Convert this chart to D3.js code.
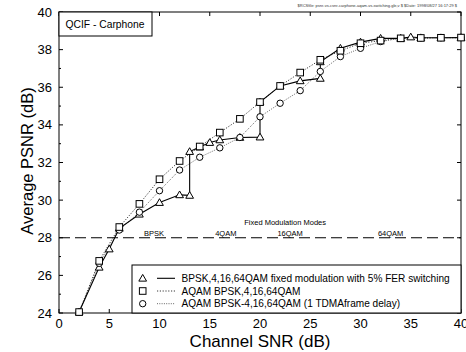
<!DOCTYPE html>
<html><head><meta charset="utf-8">
<script src="https://cdn.jsdelivr.net/npm/d3@7"></script>
<style>
body{margin:0;background:#fff;}
svg{display:block;font-family:"Liberation Sans",Arial,Helvetica,sans-serif;}
</style></head>
<body>
<svg id="chart" width="466" height="352"></svg>
<script>
// ---- data ----
const triangleData = [[2,24.05],[4,26.43],[5,27.4],[6,28.5],[8,29.25],[10,29.87],[12,30.28],[13,30.25],[13,32.58],[14,32.82],[15,33.06],[16,33.2],[18,33.33],[20,33.35],[20,35.21],[22,36.07],[24,36.34],[26,36.47],[26,37.35],[28,38.07],[30,38.4],[32,38.6],[34,38.6],[35,38.67],[36,38.63],[38,38.63],[40,38.64]];
const squareData = [[2,24.05],[4,26.77],[6,28.57],[8,29.8],[10,31.11],[12,32.08],[14,32.85],[16,33.59],[18,34.32],[20,35.21],[22,36.07],[24,36.78],[26,37.46],[28,37.94],[30,38.34],[32,38.48],[34,38.6],[36,38.62],[38,38.63],[40,38.64]];
const circleData = [[2,24.05],[4,26.64],[6,28.41],[8,29.36],[10,30.5],[12,31.6],[14,32.28],[16,32.78],[18,33.33],[20,34.43],[22,35.15],[24,35.82],[26,36.84],[28,37.63],[30,38.07],[32,38.43],[34,38.6],[36,38.62],[38,38.63],[40,38.64]];
const seriesNames = ["BPSK,4,16,64QAM fixed modulation with 5% FER switching","AQAM BPSK,4,16,64QAM","AQAM BPSK-4,16,64QAM (1 TDMAframe delay)"];
const xTicks = [0,5,10,15,20,25,30,35,40];
const yTicks = [24,26,28,30,32,34,36,38,40];
const yMinorTicks = [25,27,29,31,33,35,37,39];
const fixedThreshold = 28;
const modeLabels = [["BPSK",9.45],["4QAM",16.6],["16QAM",23.0],["64QAM",33.0]];
const modeTitle = ["Fixed Modulation Modes",22.5];
const boxTitle = "QCIF - Carphone";
const rcsText = "$RCSfile: psnr-vs-csnr-carphone-aqam-vs-switching.gle,v $ $Date: 1998/08/27 16:17:29 $";
const xTitle = "Channel SNR (dB)";
const yTitle = "Average PSNR (dB)";

// ---- chart ----
const svg = d3.select("#chart");
const L=59,R=461,T=12,B=313;
const x = d3.scaleLinear().domain([0,40]).range([L,R]);
const y = d3.scaleLinear().domain([24,40]).range([B,T]);

// rcs text
svg.append("text").attr("x",457).attr("y",7).attr("text-anchor","end")
  .attr("font-size",4).attr("fill","#333").text(rcsText);

// frame
svg.append("rect").attr("x",L).attr("y",T).attr("width",R-L).attr("height",B-T)
  .attr("fill","none").attr("stroke","#000").attr("stroke-width",1);

// ticks
const tk = svg.append("g").attr("stroke","#000").attr("stroke-width",1);
xTicks.forEach(v=>{
  tk.append("line").attr("x1",x(v)).attr("x2",x(v)).attr("y1",B).attr("y2",B-4);
  tk.append("line").attr("x1",x(v)).attr("x2",x(v)).attr("y1",T).attr("y2",T+4);
});
yTicks.forEach(v=>{
  tk.append("line").attr("x1",L).attr("x2",L+4).attr("y1",y(v)).attr("y2",y(v));
  tk.append("line").attr("x1",R).attr("x2",R-4).attr("y1",y(v)).attr("y2",y(v));
});
yMinorTicks.forEach(v=>{
  tk.append("line").attr("x1",L).attr("x2",L+2).attr("y1",y(v)).attr("y2",y(v));
});

// tick labels
svg.append("g").selectAll("text").data(xTicks).join("text")
  .attr("x",d=>x(d)).attr("y",B+15).attr("text-anchor","middle")
  .attr("font-size",13).text(d=>d);
svg.append("g").selectAll("text").data(yTicks).join("text")
  .attr("x",L-7).attr("y",d=>y(d)+4.6).attr("text-anchor","end")
  .attr("font-size",13).text(d=>d);

// axis titles
svg.append("text").attr("x",(L+R)/2).attr("y",347).attr("text-anchor","middle")
  .attr("font-size",17).text(xTitle);
svg.append("text").attr("transform","translate(33,161) rotate(-90)")
  .attr("text-anchor","middle").attr("font-size",16.5).text(yTitle);

// fixed modulation dashed line
svg.append("line").attr("x1",L).attr("x2",R).attr("y1",y(fixedThreshold)).attr("y2",y(fixedThreshold))
  .attr("stroke","#000").attr("stroke-width",1.1).attr("stroke-dasharray","11,5");
svg.append("text").attr("x",x(modeTitle[1])).attr("y",y(28.86)+3).attr("text-anchor","middle")
  .attr("font-size",7.5).text(modeTitle[0]);
svg.append("g").selectAll("text").data(modeLabels).join("text")
  .attr("x",d=>x(d[1])).attr("y",y(28.25)+3).attr("text-anchor","middle")
  .attr("font-size",7.5).text(d=>d[0]);

// lines
const line = d3.line().x(d=>x(d[0])).y(d=>y(d[1]));
svg.append("path").datum(squareData).attr("d",line).attr("fill","none")
  .attr("stroke","#222").attr("stroke-width",0.9).attr("stroke-dasharray","1.2,1.6");
svg.append("path").datum(circleData).attr("d",line).attr("fill","none")
  .attr("stroke","#555").attr("stroke-width",0.9).attr("stroke-dasharray","1,1.3");
svg.append("path").datum(triangleData).attr("d",line).attr("fill","none")
  .attr("stroke","#000").attr("stroke-width",1.1);

// markers
const triSym = d3.symbol().type(d3.symbolTriangle).size(26);
function drawTri(g,px,py){ g.append("path").attr("d",triSym()).attr("transform",`translate(${px},${py+0.6})`)
  .attr("fill","#fff").attr("stroke","#000").attr("stroke-width",1); }
function drawSq(g,px,py){ g.append("rect").attr("x",px-3.3).attr("y",py-3.3).attr("width",6.6).attr("height",6.6)
  .attr("fill","#fff").attr("stroke","#000").attr("stroke-width",1); }
function drawCi(g,px,py){ g.append("circle").attr("cx",px).attr("cy",py).attr("r",3.2)
  .attr("fill","#fff").attr("stroke","#000").attr("stroke-width",1); }
const mk = svg.append("g");
triangleData.forEach(d=>drawTri(mk,x(d[0]),y(d[1])));
circleData.forEach(d=>drawCi(mk,x(d[0]),y(d[1])));
squareData.forEach(d=>drawSq(mk,x(d[0]),y(d[1])));

// title box
svg.append("rect").attr("x",L).attr("y",T).attr("width",93).attr("height",24)
  .attr("fill","#fff").attr("stroke","#000").attr("stroke-width",1);
svg.append("text").attr("x",65.5).attr("y",28.3).attr("font-size",10.3).text(boxTitle);

// legend
const lg = svg.append("g");
lg.append("rect").attr("x",132).attr("y",265).attr("width",R-132).attr("height",B-265)
  .attr("fill","#fff").attr("stroke","#000").attr("stroke-width",1);
const rows=[278.3,291,303.7];
const styles=[{c:"#000",w:1.1,da:null},{c:"#222",w:0.9,da:"1.2,1.6"},{c:"#555",w:0.9,da:"1,1.3"}];
rows.forEach((ry,i)=>{
  lg.append("line").attr("x1",157).attr("x2",175).attr("y1",ry).attr("y2",ry)
    .attr("stroke",styles[i].c).attr("stroke-width",styles[i].w).attr("stroke-dasharray",styles[i].da);
  if(i===0) drawTri(lg,142.7,ry); else if(i===1) drawSq(lg,142.7,ry); else drawCi(lg,142.7,ry);
  lg.append("text").attr("x",181.5).attr("y",ry+3.7).attr("font-size",10.1).text(seriesNames[i]);
});
</script>
</body></html>
